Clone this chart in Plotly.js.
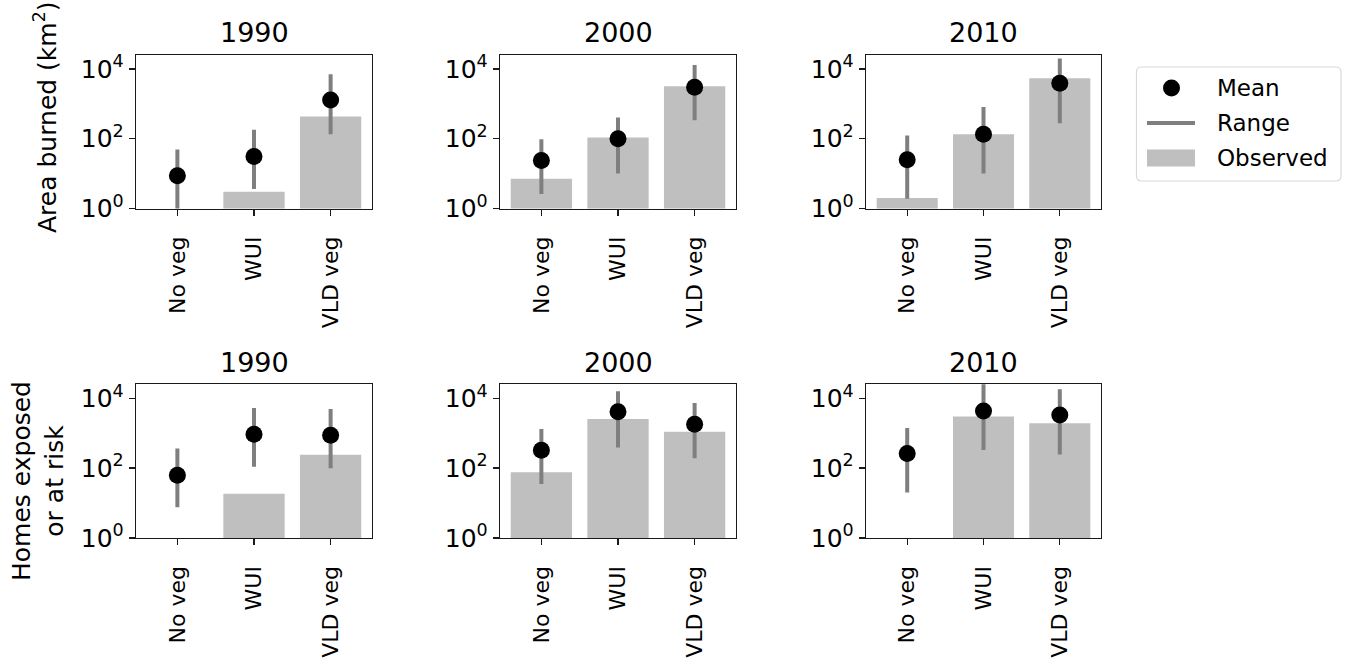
<!DOCTYPE html>
<html>
<head>
<meta charset="utf-8">
<script src="https://cdn.plot.ly/plotly-3.0.1.min.js"></script>
<style>html,body{margin:0;padding:0;background:#fff;}</style>
</head>
<body>
<div id="chart" style="width:1346px;height:669px;"></div>
<script>
// ---------- data ----------
const categories = ["No veg", "WUI", "VLD veg"];
const years = ["1990", "2000", "2010"];
const tickVals = [1, 100, 10000];
const tickText = ["10<sup>0</sup>", "10<sup>2</sup>", "10<sup>4</sup>"];

// Area burned (km²)
const areaMean1990 = [8.7, 31, 1290];
const areaLow1990  = [0.5, 3.6, 135];
const areaHigh1990 = [49, 182, 7100];
const areaObs1990  = [null, 3.0, 435];

const areaMean2000 = [23.6, 100, 3000];
const areaLow2000  = [2.6, 10, 340];
const areaHigh2000 = [97, 407, 13000];
const areaObs2000  = [7.1, 109, 3200];

const areaMean2010 = [25, 135, 3900];
const areaLow2010  = [1.9, 10, 280];
const areaHigh2010 = [124, 815, 20000];
const areaObs2010  = [2.0, 135, 5400];

// Homes exposed or at risk
const homesMean1990 = [63, 940, 870];
const homesLow1990  = [7.6, 109, 100];
const homesHigh1990 = [365, 5300, 4900];
const homesObs1990  = [null, 18.6, 240];

const homesMean2000 = [326, 4100, 1800];
const homesLow2000  = [35, 390, 192];
const homesHigh2000 = [1320, 16000, 7300];
const homesObs2000  = [76, 2560, 1100];

const homesMean2010 = [264, 4350, 3330];
const homesLow2010  = [20, 330, 245];
const homesHigh2010 = [1420, 30000, 18000];
const homesObs2010  = [null, 3000, 1930];

const panels = [
  {mean: areaMean1990, low: areaLow1990, high: areaHigh1990, obs: areaObs1990, year: years[0]},
  {mean: areaMean2000, low: areaLow2000, high: areaHigh2000, obs: areaObs2000, year: years[1]},
  {mean: areaMean2010, low: areaLow2010, high: areaHigh2010, obs: areaObs2010, year: years[2]},
  {mean: homesMean1990, low: homesLow1990, high: homesHigh1990, obs: homesObs1990, year: years[0]},
  {mean: homesMean2000, low: homesLow2000, high: homesHigh2000, obs: homesObs2000, year: years[1]},
  {mean: homesMean2010, low: homesLow2010, high: homesHigh2010, obs: homesObs2010, year: years[2]}
];

// ---------- layout geometry ----------
const W = 1346, H = 669;
const colPx = [[136, 372], [500, 736], [866, 1101]];
const rowPx = [[55, 208.5], [384.3, 538]];
const FONT = "DejaVu Sans, sans-serif";
const BAR_COLOR = "#bfbfbf";
const RANGE_COLOR = "#7f7f7f";

const traces = [];
const layout = {
  width: W, height: H,
  margin: {l: 0, r: 0, t: 0, b: 0},
  paper_bgcolor: "#ffffff",
  plot_bgcolor: "#ffffff",
  showlegend: false,
  font: {family: FONT, color: "#000", size: 22},
  annotations: [],
  shapes: []
};

panels.forEach((p, k) => {
  const r = Math.floor(k / 3), c = k % 3;
  const n = k + 1;
  const xa = "x" + (n === 1 ? "" : n), ya = "y" + (n === 1 ? "" : n);
  const xk = "xaxis" + (n === 1 ? "" : n), yk = "yaxis" + (n === 1 ? "" : n);

  traces.push({
    type: "bar", x: categories, y: p.obs, xaxis: xa, yaxis: ya,
    marker: {color: BAR_COLOR, line: {width: 0}}, width: 0.8, name: "Observed",
    hoverinfo: "x+y"
  });
  const lx = [], ly = [];
  categories.forEach((cat, i) => { lx.push(cat, cat, null); ly.push(p.low[i], p.high[i], null); });
  traces.push({
    type: "scatter", mode: "lines", x: lx, y: ly, xaxis: xa, yaxis: ya,
    line: {color: RANGE_COLOR, width: 4}, name: "Range", hoverinfo: "skip"
  });
  traces.push({
    type: "scatter", mode: "markers", x: categories, y: p.mean, xaxis: xa, yaxis: ya,
    marker: {color: "#000", size: 17}, name: "Mean"
  });

  layout[xk] = {
    domain: [colPx[c][0] / W, colPx[c][1] / W],
    anchor: ya, type: "category", range: [-0.54, 2.54],
    showline: true, mirror: true, linecolor: "#1a1a1a", linewidth: 1.3,
    ticks: "outside", ticklen: 6, tickwidth: 1.3, tickcolor: "#1a1a1a",
    tickangle: -90, tickfont: {size: 22, family: FONT, color: "#000"},
    ticklabelstandoff: 12,
    showgrid: false, zeroline: false, fixedrange: true
  };
  layout[yk] = {
    domain: [1 - rowPx[r][1] / H, 1 - rowPx[r][0] / H],
    anchor: xa, type: "log", range: [0, 4.4],
    tickvals: tickVals, ticktext: tickText,
    showline: true, mirror: true, linecolor: "#1a1a1a", linewidth: 1.3,
    ticks: "outside", ticklen: 6, tickwidth: 1.3, tickcolor: "#1a1a1a",
    tickfont: {size: 25, family: FONT, color: "#000"},
    showgrid: false, zeroline: false, fixedrange: true
  };
  layout.annotations.push({
    xref: "paper", yref: "paper",
    x: (colPx[c][0] + colPx[c][1]) / 2 / W,
    y: 1 - (r === 0 ? 32.5 : 362) / H,
    xanchor: "center", yanchor: "middle", showarrow: false,
    text: p.year, font: {size: 27, family: FONT, color: "#000"}
  });
});

// y-axis titles
layout.annotations.push({
  xref: "paper", yref: "paper", x: 45 / W, y: 1 - 117 / H,
  xanchor: "center", yanchor: "middle", showarrow: false, textangle: -90,
  text: "Area burned (km<sup>2</sup>)", font: {size: 25, family: FONT, color: "#000"}
});
layout.annotations.push({
  xref: "paper", yref: "paper", x: 38 / W, y: 1 - 481 / H,
  xanchor: "center", yanchor: "middle", showarrow: false, textangle: -90,
  text: "Homes exposed<br>or at risk", align: "center",
  font: {size: 25, family: FONT, color: "#000"}
});

// ---------- legend (drawn) ----------
const legendItems = ["Mean", "Range", "Observed"];
const lg = {x0: 1136.5, x1: 1341, y0: 67, y1: 181, rad: 5};
const px = v => v / W, py = v => 1 - v / H;
layout.shapes.push({
  type: "path", xref: "paper", yref: "paper",
  path: `M ${px(lg.x0 + lg.rad)} ${py(lg.y0)} L ${px(lg.x1 - lg.rad)} ${py(lg.y0)} Q ${px(lg.x1)} ${py(lg.y0)} ${px(lg.x1)} ${py(lg.y0 + lg.rad)} L ${px(lg.x1)} ${py(lg.y1 - lg.rad)} Q ${px(lg.x1)} ${py(lg.y1)} ${px(lg.x1 - lg.rad)} ${py(lg.y1)} L ${px(lg.x0 + lg.rad)} ${py(lg.y1)} Q ${px(lg.x0)} ${py(lg.y1)} ${px(lg.x0)} ${py(lg.y1 - lg.rad)} L ${px(lg.x0)} ${py(lg.y0 + lg.rad)} Q ${px(lg.x0)} ${py(lg.y0)} ${px(lg.x0 + lg.rad)} ${py(lg.y0)} Z`,
  line: {color: "#d9d9d9", width: 1.2}, fillcolor: "rgba(255,255,255,0.8)"
});
const rowsY = [88, 123, 158];
// Mean dot
layout.shapes.push({type: "circle", xref: "paper", yref: "paper",
  x0: px(1171.5 - 8.5), x1: px(1171.5 + 8.5), y0: py(rowsY[0] - 8.5), y1: py(rowsY[0] + 8.5),
  fillcolor: "#000", line: {width: 0}});
// Range line
layout.shapes.push({type: "line", xref: "paper", yref: "paper",
  x0: px(1147), x1: px(1195), y0: py(rowsY[1]), y1: py(rowsY[1]),
  line: {color: RANGE_COLOR, width: 4}});
// Observed patch
layout.shapes.push({type: "rect", xref: "paper", yref: "paper",
  x0: px(1147), x1: px(1195), y0: py(rowsY[2] - 8.5), y1: py(rowsY[2] + 8.5),
  fillcolor: BAR_COLOR, line: {width: 0}});
legendItems.forEach((t, i) => {
  layout.annotations.push({
    xref: "paper", yref: "paper", x: px(1215), y: py(rowsY[i]),
    xanchor: "left", yanchor: "middle", showarrow: false,
    text: t, font: {size: 23, family: FONT, color: "#000"}
  });
});

Plotly.newPlot("chart", traces, layout, {displayModeBar: false, staticPlot: true});
</script>
</body>
</html>
